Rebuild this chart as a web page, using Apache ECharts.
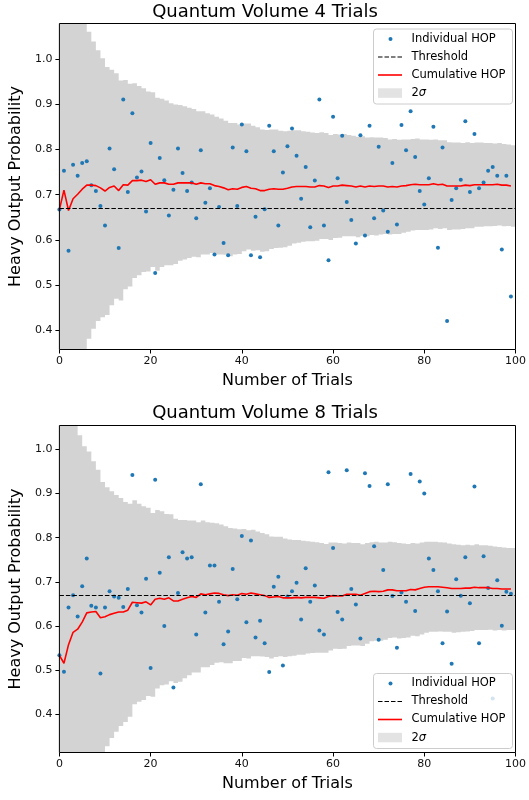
<!DOCTYPE html>
<html>
<head>
<meta charset="utf-8">
<script src="https://cdn.jsdelivr.net/npm/echarts@6/dist/echarts.min.js"></script>
<style>
  html, body { margin: 0; padding: 0; background: #fff; }
  #chart { width: 529px; height: 800px; }
</style>
</head>
<body>
<div id="chart"></div>
<script>
// tick labels
const xTicks = [0, 20, 40, 60, 80, 100];
const yTicks = [0.4, 0.5, 0.6, 0.7, 0.8, 0.9, 1.0];
const thresholdHOP = 2 / 3;

// Quantum Volume 4 : individual HOP per trial (trial index 0..99)
const hopQV4 = [0.667,0.753,0.576,0.766,0.742,0.770,0.774,0.721,0.708,0.675,
  0.632,0.802,0.756,0.582,0.910,0.706,0.880,0.738,0.751,0.663,
  0.814,0.527,0.781,0.732,0.654,0.711,0.802,0.748,0.708,0.727,
  0.648,0.798,0.682,0.714,0.568,0.673,0.593,0.566,0.804,0.675,
  0.855,0.796,0.566,0.651,0.562,0.668,0.852,0.796,0.632,0.749,
  0.807,0.846,0.786,0.691,0.761,0.628,0.731,0.910,0.632,0.555,
  0.872,0.736,0.830,0.684,0.644,0.592,0.831,0.610,0.852,0.648,
  0.806,0.665,0.618,0.770,0.634,0.854,0.798,0.884,0.783,0.708,
  0.678,0.736,0.850,0.583,0.804,0.421,0.688,0.714,0.733,0.862,
  0.706,0.834,0.714,0.727,0.753,0.761,0.742,0.579,0.742,0.475];
const cumQV4 = [0.667,0.710,0.665,0.691,0.701,0.712,0.721,0.721,0.720,0.715,
  0.708,0.716,0.719,0.709,0.722,0.721,0.731,0.731,0.732,0.729,
  0.733,0.723,0.726,0.726,0.723,0.723,0.726,0.726,0.726,0.726,
  0.723,0.726,0.724,0.724,0.720,0.718,0.715,0.711,0.713,0.712,
  0.716,0.718,0.714,0.713,0.709,0.709,0.712,0.713,0.712,0.712,
  0.714,0.717,0.718,0.718,0.718,0.717,0.717,0.720,0.719,0.716,
  0.719,0.719,0.721,0.720,0.719,0.717,0.719,0.717,0.719,0.718,
  0.719,0.719,0.717,0.718,0.717,0.719,0.720,0.722,0.723,0.722,
  0.722,0.722,0.724,0.722,0.723,0.719,0.719,0.719,0.719,0.721,
  0.720,0.722,0.722,0.722,0.722,0.722,0.723,0.721,0.721,0.719];
const lowQV4 = [-0.276,0.068,0.120,0.229,0.292,0.342,0.382,0.404,0.421,0.429,
  0.434,0.456,0.470,0.466,0.491,0.497,0.516,0.522,0.529,0.530,
  0.540,0.532,0.540,0.544,0.544,0.547,0.554,0.557,0.560,0.563,
  0.562,0.568,0.568,0.571,0.568,0.568,0.567,0.564,0.568,0.569,
  0.575,0.579,0.576,0.577,0.574,0.575,0.580,0.582,0.583,0.584,
  0.587,0.592,0.594,0.596,0.597,0.597,0.598,0.602,0.602,0.600,
  0.604,0.605,0.608,0.608,0.608,0.606,0.609,0.608,0.611,0.610,
  0.612,0.613,0.612,0.613,0.613,0.616,0.618,0.621,0.622,0.622,
  0.622,0.623,0.626,0.624,0.626,0.622,0.623,0.623,0.624,0.626,
  0.626,0.629,0.629,0.630,0.630,0.631,0.632,0.630,0.631,0.629];
const highQV4 = [1.610,1.352,1.210,1.153,1.110,1.082,1.060,1.038,1.019,1.001,
  0.982,0.976,0.968,0.952,0.953,0.945,0.946,0.940,0.935,0.928,
  0.926,0.914,0.912,0.908,0.902,0.899,0.898,0.895,0.892,0.889,
  0.884,0.884,0.880,0.877,0.872,0.868,0.863,0.858,0.858,0.855,
  0.857,0.857,0.852,0.849,0.844,0.843,0.844,0.844,0.841,0.840,
  0.841,0.842,0.842,0.840,0.839,0.837,0.836,0.838,0.836,0.832,
  0.834,0.833,0.834,0.832,0.830,0.828,0.829,0.826,0.827,0.826,
  0.826,0.825,0.822,0.823,0.821,0.822,0.822,0.823,0.824,0.822,
  0.822,0.821,0.822,0.820,0.820,0.816,0.815,0.815,0.814,0.816,
  0.814,0.815,0.815,0.814,0.814,0.813,0.814,0.812,0.811,0.809];

// Quantum Volume 8
const hopQV8 = [0.534,0.497,0.642,0.670,0.622,0.690,0.753,0.646,0.642,0.493,
  0.642,0.679,0.667,0.664,0.643,0.684,0.942,0.647,0.631,0.707,
  0.505,0.931,0.721,0.600,0.756,0.461,0.675,0.767,0.753,0.756,
  0.581,0.921,0.631,0.737,0.737,0.655,0.559,0.588,0.729,0.661,
  0.804,0.609,0.794,0.574,0.612,0.561,0.496,0.689,0.712,0.511,
  0.667,0.679,0.698,0.615,0.731,0.655,0.692,0.590,0.581,0.948,
  0.777,0.632,0.615,0.953,0.684,0.649,0.572,0.946,0.917,0.781,
  0.569,0.727,0.921,0.668,0.551,0.676,0.655,0.944,0.634,0.927,
  0.900,0.753,0.727,0.679,0.561,0.633,0.515,0.706,0.669,0.756,
  0.652,0.916,0.561,0.758,0.686,0.436,0.704,0.601,0.678,0.673];
const cumQV8 = [0.534,0.516,0.558,0.586,0.593,0.609,0.630,0.632,0.633,0.619,
  0.621,0.626,0.629,0.632,0.632,0.636,0.654,0.653,0.652,0.655,
  0.648,0.661,0.663,0.661,0.664,0.657,0.657,0.661,0.664,0.667,
  0.665,0.673,0.671,0.673,0.675,0.674,0.671,0.669,0.671,0.670,
  0.674,0.672,0.675,0.673,0.671,0.669,0.665,0.666,0.667,0.664,
  0.664,0.664,0.665,0.664,0.665,0.665,0.665,0.664,0.663,0.667,
  0.669,0.668,0.668,0.672,0.672,0.672,0.670,0.674,0.678,0.679,
  0.678,0.679,0.682,0.682,0.680,0.680,0.680,0.683,0.682,0.685,
  0.688,0.689,0.689,0.689,0.688,0.687,0.685,0.685,0.685,0.686,
  0.686,0.688,0.687,0.687,0.687,0.685,0.685,0.684,0.684,0.684];
const lowQV8 = [-0.464,-0.191,-0.015,0.093,0.154,0.211,0.265,0.291,0.312,0.312,
  0.328,0.347,0.361,0.374,0.383,0.395,0.423,0.429,0.433,0.442,
  0.440,0.459,0.466,0.468,0.475,0.471,0.474,0.482,0.489,0.495,
  0.495,0.507,0.507,0.512,0.517,0.518,0.516,0.516,0.521,0.521,
  0.528,0.527,0.532,0.532,0.531,0.530,0.527,0.530,0.532,0.530,
  0.532,0.533,0.535,0.535,0.538,0.539,0.540,0.540,0.540,0.545,
  0.549,0.548,0.549,0.555,0.556,0.556,0.555,0.560,0.566,0.567,
  0.567,0.569,0.573,0.574,0.572,0.573,0.574,0.578,0.577,0.581,
  0.585,0.587,0.587,0.588,0.587,0.587,0.585,0.586,0.587,0.588,
  0.589,0.591,0.591,0.591,0.592,0.590,0.591,0.590,0.591,0.591];
const highQV8 = [1.532,1.223,1.131,1.079,1.032,1.007,0.995,0.973,0.954,0.926,
  0.914,0.905,0.897,0.890,0.881,0.877,0.885,0.877,0.871,0.868,
  0.856,0.863,0.860,0.854,0.853,0.843,0.840,0.840,0.839,0.839,
  0.835,0.839,0.835,0.834,0.833,0.830,0.826,0.822,0.821,0.819,
  0.820,0.817,0.818,0.814,0.811,0.808,0.803,0.802,0.802,0.798,
  0.796,0.795,0.795,0.793,0.792,0.791,0.790,0.788,0.786,0.789,
  0.789,0.788,0.787,0.789,0.788,0.788,0.785,0.788,0.790,0.791,
  0.789,0.789,0.791,0.790,0.788,0.787,0.786,0.788,0.787,0.789,
  0.791,0.791,0.791,0.790,0.789,0.787,0.785,0.784,0.783,0.784,
  0.783,0.785,0.783,0.783,0.782,0.780,0.779,0.778,0.777,0.777];

const FONT = 'DejaVu Sans';
const chart = echarts.init(document.getElementById('chart'), null, { renderer: 'canvas' });

function pairs(arr) { return arr.map((v, i) => [i, v]); }
function bandData(lo, hi) { return lo.map((v, i) => [i, v, hi[i]]); }

// step band drawn as one polygon: trial t fills [t, t+1] between lower and upper
function makeBandRenderer(yMin, yMax) {
  const clamp = v => Math.min(yMax, Math.max(yMin, v));
  return function (params, api) {
    if (params.dataIndexInside !== 0) return null;
    const n = params.dataInsideLength;
    const top = [], bottom = [];
    for (let i = 0; i < n; i++) {
      const t = api.value(0, i);
      const lo = clamp(api.value(1, i));
      const hi = clamp(api.value(2, i));
      top.push(api.coord([t, hi]), api.coord([t + 1, hi]));
      bottom.push(api.coord([t, lo]), api.coord([t + 1, lo]));
    }
    return { type: 'polygon', shape: { points: top.concat(bottom.reverse()) }, style: { fill: '#d3d3d3' } };
  };
}

function xAxisCfg(idx) {
  return {
    type: 'value', gridIndex: idx, min: 0, max: 100, interval: 20,
    name: 'Number of Trials', nameLocation: 'middle', nameGap: 23,
    nameTextStyle: { fontFamily: FONT, fontSize: 16, color: '#000' },
    axisLine: { show: false },
    axisTick: { show: true, length: 4, lineStyle: { color: '#000', width: 1 } },
    axisLabel: { fontFamily: FONT, fontSize: 11, color: '#111', margin: 6 },
    splitLine: { show: false }
  };
}
function yAxisCfg(idx, min, max) {
  return {
    type: 'value', gridIndex: idx, min: min, max: max,
    name: 'Heavy Output Probability', nameLocation: 'middle', nameGap: 31,
    nameTextStyle: { fontFamily: FONT, fontSize: 16, color: '#000' },
    axisLine: { show: false },
    axisTick: { show: true, length: 4, customValues: yTicks, lineStyle: { color: '#000', width: 1 } },
    axisLabel: { fontFamily: FONT, fontSize: 11, color: '#111', margin: 7,
      customValues: yTicks, formatter: v => v.toFixed(1) },
    splitLine: { show: false }
  };
}

function seriesFor(idx, hop, cum, lo, hi, yMin, yMax) {
  return [
    { name: '2σ', type: 'custom', xAxisIndex: idx, yAxisIndex: idx, z: 1, silent: true,
      renderItem: makeBandRenderer(yMin, yMax), encode: { x: 0, y: [1, 2] }, data: bandData(lo, hi) },
    { name: 'Individual HOP', type: 'scatter', xAxisIndex: idx, yAxisIndex: idx, z: 2, silent: true,
      symbolSize: 4, itemStyle: { color: '#1f77b4', opacity: 1 }, data: pairs(hop),
      markLine: { silent: true, symbol: 'none', label: { show: false },
        lineStyle: { color: '#000', width: 1.2, type: [4.5, 2] },
        data: [{ yAxis: thresholdHOP }] } },
    { name: 'Cumulative HOP', type: 'line', xAxisIndex: idx, yAxisIndex: idx, z: 3, silent: true,
      symbol: 'none', showSymbol: false, lineStyle: { color: '#ff0000', width: 1.6 },
      data: pairs(cum) }
  ];
}

function legendBox(top) {
  const L = 373.5, hx0 = 378, hx1 = 402, tx = 411.5;
  const rows = [top + 10, top + 28, top + 46, top + 64.3];
  const txt = (y, s) => ({ type: 'text', x: tx, y: y, z: 101,
    style: { text: s, fontFamily: FONT, fontSize: 11.5, fill: '#000', verticalAlign: 'middle' } });
  return [
    { type: 'rect', z: 100, shape: { x: L, y: top, width: 139, height: 75, r: 3 },
      style: { fill: 'rgba(255,255,255,0.8)', stroke: '#cccccc', lineWidth: 1 } },
    { type: 'circle', z: 101, shape: { cx: 390.5, cy: rows[0], r: 2 }, style: { fill: '#1f77b4' } },
    { type: 'line', z: 101, shape: { x1: hx0, y1: rows[1], x2: hx1, y2: rows[1] },
      style: { stroke: '#000', lineWidth: 1.2, lineDash: [4.5, 2] } },
    { type: 'line', z: 101, shape: { x1: hx0, y1: rows[2], x2: hx1, y2: rows[2] },
      style: { stroke: '#ff0000', lineWidth: 1.6 } },
    { type: 'rect', z: 101, shape: { x: hx0, y: rows[3] - 5, width: hx1 - hx0, height: 9.5 },
      style: { fill: '#e3e3e3' } },
    txt(rows[0], 'Individual HOP'),
    txt(rows[1], 'Threshold'),
    txt(rows[2], 'Cumulative HOP'),
    { type: 'text', x: tx, y: rows[3], z: 101,
      style: { text: '{a|2}{b|σ}', verticalAlign: 'middle', fill: '#000',
        rich: { a: { fontFamily: FONT, fontSize: 11.5 },
                b: { fontFamily: FONT, fontSize: 11.5, fontStyle: 'italic' } } } }
  ];
}

function titleText(y, s) {
  return { type: 'text', x: 265, y: y, z: 101,
    style: { text: s, fontFamily: FONT, fontSize: 18, fill: '#000',
      align: 'center', verticalAlign: 'middle' } };
}

const option = {
  animation: false,
  backgroundColor: '#fff',
  grid: [
    { left: 57.5, top: 23.5, width: 461, height: 326, show: true, z: 10,
      borderColor: '#000', borderWidth: 1, backgroundColor: 'transparent' },
    { left: 57.5, top: 425.5, width: 461, height: 327, show: true, z: 10,
      borderColor: '#000', borderWidth: 1, backgroundColor: 'transparent' }
  ],
  xAxis: [xAxisCfg(0), xAxisCfg(1)],
  yAxis: [yAxisCfg(0, 0.358, 1.078), yAxisCfg(1, 0.314, 1.054)],
  series: seriesFor(0, hopQV4, cumQV4, lowQV4, highQV4, 0.358, 1.078)
    .concat(seriesFor(1, hopQV8, cumQV8, lowQV8, highQV8, 0.314, 1.054)),
  graphic: [
    titleText(12, 'Quantum Volume 4 Trials'),
    titleText(413, 'Quantum Volume 8 Trials')
  ].concat(legendBox(29), legendBox(673.5))
};
chart.setOption(option);
</script>
</body>
</html>
